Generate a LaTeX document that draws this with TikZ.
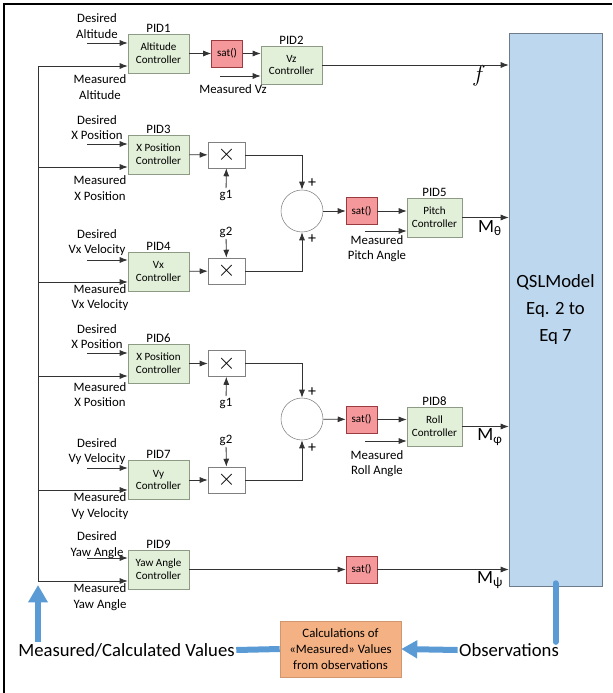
\documentclass[tikz,border=0pt]{standalone}
\usepackage{fontspec}
\setmainfont{Carlito}
\usetikzlibrary{arrows.meta,positioning,calc}

\definecolor{pidfill}{HTML}{E2EFD9}
\definecolor{piddraw}{HTML}{8C9A86}
\definecolor{satfill}{HTML}{F4989B}
\definecolor{satdraw}{HTML}{9A3B3F}
\definecolor{qslfill}{HTML}{BDD7EE}
\definecolor{qsldraw}{HTML}{6D7B8A}
\definecolor{calcfill}{HTML}{F4B183}
\definecolor{obsblue}{HTML}{5B9BD5}

\begin{document}
\begin{tikzpicture}[x=0.75pt,y=-0.75pt,
 pid/.style={draw=piddraw,fill=pidfill,minimum width=45.75pt,minimum height=29.25pt,inner sep=1pt,align=center,font=\fontsize{8.3}{9.5}\selectfont},
 satbox/.style={draw=satdraw,fill=satfill,minimum width=23.25pt,minimum height=20.25pt,inner sep=0pt,font=\fontsize{8.3}{9.5}\selectfont},
 mulbox/.style={draw=black!50,fill=white,minimum width=27.75pt,minimum height=19.5pt,inner sep=0pt,font=\fontsize{16}{16}\selectfont},
 sumnode/.style={circle,draw=black!50,fill=white,minimum size=31.5pt,inner sep=0pt},
 lbl/.style={align=center,inner sep=1pt,font=\fontsize{9.6}{11.6}\selectfont},
 tag/.style={inner sep=1pt,font=\fontsize{9.6}{11.6}\selectfont},
 sign/.style={inner sep=0pt,font=\fontsize{12}{12}\selectfont},
 big/.style={inner sep=1pt,font=\fontsize{14}{17}\selectfont},
 flow/.style={-{Latex[length=6pt,width=4.5pt]},draw=black!80,line width=.6pt},
 wire/.style={draw=black!80,line width=.6pt},
 blueline/.style={draw=obsblue,line width=4.5pt},
 bluearrow/.style={-{Triangle[length=12pt,width=13pt]},draw=obsblue,line width=4.5pt}
]
\useasboundingbox (0,0) rectangle (612,693);
\draw[line width=2pt] (4,693) -- (4,4) -- (612,4);

% model block
\node[draw=qsldraw,fill=qslfill,minimum width=69.75pt,minimum height=414.75pt,align=center,font=\fontsize{14}{20}\selectfont] (qsl) at (555.5,309.5) {QSLModel\\Eq. 2 to\\Eq 7};

% controllers
\node[pid] (pid1) at (158.5,53.5) {Altitude\\Controller};
\node[pid,minimum height=28.5pt] (pid2) at (291.5,65) {Vz\\Controller};
\node[pid] (pid3) at (158.5,154.5) {X Position\\Controller};
\node[pid] (pid4) at (158.5,271.5) {Vx\\Controller};
\node[pid,minimum width=41.25pt] (pid5) at (434.5,217.5) {Pitch\\Controller};
\node[pid] (pid6) at (158.5,363.5) {X Position\\Controller};
\node[pid] (pid7) at (158.5,480) {Vy\\Controller};
\node[pid,minimum width=41.25pt] (pid8) at (434.5,426.5) {Roll\\Controller};
\node[pid] (pid9) at (158.5,569.5) {Yaw Angle\\Controller};
\foreach \n in {1,...,9}
  \node[tag,above=0pt of pid\n] (tag\n) {PID\n};

% saturation, gains and sums
\node[satbox] (sat1) at (227,53.5) {sat()};
\node[satbox] (sat2) at (361.5,211) {sat()};
\node[satbox] (sat3) at (361.5,419.5) {sat()};
\node[satbox] (sat4) at (361.5,569.5) {sat()};
\node[mulbox] (mul1) at (226.5,155) {$\times$};
\node[mulbox] (mul2) at (226.5,271) {$\times$};
\node[mulbox] (mul3) at (226.5,363.5) {$\times$};
\node[mulbox] (mul4) at (226.5,480) {$\times$};
\node[sumnode] (sum1) at (302,211) {};
\node[sumnode] (sum2) at (302,419) {};
\node[sign] (plus1) at (312,183) {+};
\node[sign] (plus2) at (312,239) {+};
\node[sign] (plus3) at (312,392) {+};
\node[sign] (plus4) at (312,448) {+};
\node[tag] (g1a) at (226,195) {g1};
\node[tag] (g2a) at (226,232) {g2};
\node[tag] (g1b) at (226,403) {g1};
\node[tag] (g2b) at (226,440) {g2};

% input texts
\node[lbl] (des1) at (97,26) {Desired\\Altitude};
\node[lbl] (mes1) at (100,87) {Measured\\Altitude};
\node[lbl] (des3) at (97,127.5) {Desired\\X Position};
\node[lbl] (mes3) at (100,188) {Measured\\X Position};
\node[lbl] (des4) at (97,242.5) {Desired\\Vx Velocity};
\node[lbl] (mes4) at (100,297.5) {Measured\\Vx Velocity};
\node[lbl] (des6) at (97,336.5) {Desired\\X Position};
\node[lbl] (mes6) at (100,394.5) {Measured\\X Position};
\node[lbl] (des7) at (97,451.5) {Desired\\Vy Velocity};
\node[lbl] (mes7) at (100,506) {Measured\\Vy Velocity};
\node[lbl] (des9) at (97,545) {Desired\\Yaw Angle};
\node[lbl] (mes9) at (100,597) {Measured\\Yaw Angle};
\node[lbl] (mvz) at (233,89) {Measured Vz};
\node[lbl] (mpa) at (377,248.5) {Measured\\Pitch Angle};
\node[lbl] (mra) at (377,463.5) {Measured\\Roll Angle};

% outputs
\node[big,font=\fontsize{16}{17}\selectfont] (fout) at (479,76) {$f$};
\node[big] (mth) at (490,228) {M\textsubscript{θ}};
\node[big] (mph) at (490,437) {M\textsubscript{φ}};
\node[big] (mps) at (490,580) {M\textsubscript{ψ}};

% observation loop
\node[fill=calcfill,draw=calcfill!85!black,minimum width=90.75pt,minimum height=42pt,align=center,inner sep=1pt,font=\fontsize{9.6}{12}\selectfont] (calc) at (340.5,649) {Calculations of\\«Measured» Values\\from observations};
\node[big] (mcv) at (126.5,650) {Measured/Calculated Values};
\node[big] (obs) at (509,650) {Observations};

\coordinate (m1) at (38,66);
\coordinate (m3) at (38,167);
\coordinate (m4) at (38,282);
\coordinate (m6) at (38,376);
\coordinate (m7) at (38,490);
\coordinate (m9) at (38,581);
\coordinate (d1) at (87,43);
\coordinate (d3) at (87,144);
\coordinate (d4) at (87,260);
\coordinate (d6) at (87,353);
\coordinate (d7) at (87,468);
\coordinate (d9) at (87,558);
\coordinate (mv) at (220,76);
\coordinate (mp) at (365,231);
\coordinate (mr) at (365,441);

\draw[wire] (m1) -- (m9);
\foreach \k in {1,3,4,6,7,9} {
  \draw[flow] (m\k) -- (m\k -| pid\k.west);
  \draw[flow] (d\k) -- (d\k -| pid\k.west);
}

\draw[flow] (pid1) -- (sat1);
\draw[flow] (sat1.east) -- (sat1.east -| pid2.west);
\draw[flow] (mv) -- (mv -| pid2.west);
\draw[flow] (pid2.east) -- (pid2.east -| qsl.west);

\draw[flow] (pid3) -- (mul1);
\draw[flow] (pid4) -- (mul2);
\draw[flow] (g1a) -- (mul1);
\draw[flow] (g2a) -- (mul2);
\draw[flow] (mul1.east) -| (sum1.north);
\draw[flow] (mul2.east) -| (sum1.south);
\draw[flow] (sum1) -- (sat2);
\draw[flow] (sat2.east) -- (sat2.east -| pid5.west);
\draw[flow] (mp) -- (mp -| pid5.west);
\draw[flow] (pid5.east) -- (pid5.east -| qsl.west);

\draw[flow] (pid6) -- (mul3);
\draw[flow] (pid7) -- (mul4);
\draw[flow] (g1b) -- (mul3);
\draw[flow] (g2b) -- (mul4);
\draw[flow] (mul3.east) -| (sum2.north);
\draw[flow] (mul4.east) -| (sum2.south);
\draw[flow] (sum2) -- (sat3);
\draw[flow] (sat3.east) -- (sat3.east -| pid8.west);
\draw[flow] (mr) -- (mr -| pid8.west);
\draw[flow] (pid8.east) -- (pid8.east -| qsl.west);

\draw[flow] (pid9) -- (sat4);
\draw[flow] (sat4.east) -- (sat4.east -| qsl.west);

\draw[blueline,line cap=round] ($(qsl.south)+(0,-3)$) -- (qsl.south |- obs.north);
\draw[bluearrow] (obs.west) -- (calc.east);
\draw[blueline] (calc.west) -- (mcv.east);
\draw[bluearrow,line width=5pt,-{Triangle[length=13pt,width=14pt]}] (mcv.north -| m9) -- ($(m9)+(0,4)$);
\end{tikzpicture}
\end{document}
